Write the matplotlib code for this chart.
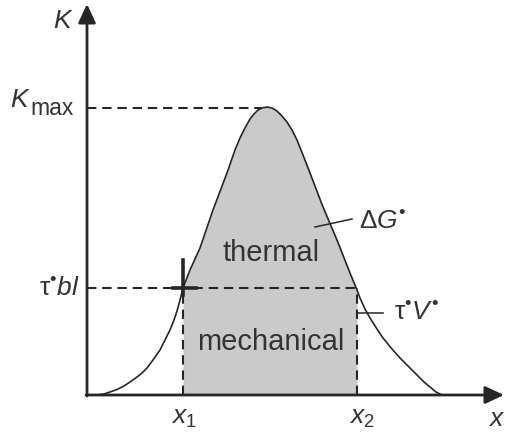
import numpy as np
import matplotlib
matplotlib.use("Agg")
import matplotlib.pyplot as plt

plt.rcParams['font.family'] = ['Liberation Sans', 'DejaVu Sans']
plt.rcParams['mathtext.fontset'] = 'custom'
plt.rcParams['mathtext.rm'] = 'Liberation Sans'
plt.rcParams['mathtext.it'] = 'Liberation Sans:italic'
plt.rcParams['mathtext.bf'] = 'Liberation Sans:bold'

# force-distance profile K(x), points along the barrier
curve_x = [0.10, 0.17, 0.23, 0.30, 0.37, 0.43, 0.50, 0.55, 0.60, 0.66, 0.73, 0.78,
           0.83, 0.87, 0.90, 0.93, 0.96, 1.03, 1.13, 1.26, 1.40, 1.48, 1.53, 1.58,
           1.63, 1.67, 1.71, 1.75, 1.80, 1.85, 1.90, 1.95, 2.00, 2.05, 2.10, 2.16,
           2.23, 2.36, 2.50, 2.63, 2.70, 2.73, 2.78, 2.83, 2.90, 2.96, 3.05, 3.13,
           3.22, 3.30, 3.37, 3.43, 3.49, 3.55]
curve_y = [0.00, 0.01, 0.03, 0.055, 0.09, 0.13, 0.18, 0.22, 0.27, 0.35, 0.45, 0.55,
           0.65, 0.75, 0.84, 0.95, 1.07, 1.25, 1.47, 1.85, 2.22, 2.45, 2.57, 2.67,
           2.76, 2.81, 2.85, 2.87, 2.88, 2.87, 2.84, 2.79, 2.73, 2.65, 2.55, 2.40,
           2.22, 1.88, 1.55, 1.22, 1.05, 0.97, 0.86, 0.77, 0.66, 0.57, 0.46, 0.37,
           0.28, 0.20, 0.13, 0.08, 0.03, 0.00]

x1, x2 = 0.96, 2.70
tau_bl = 1.07
k_max = 2.87

ink = '#262626'
txt = '#333333'
fill_c = '#cacaca'

fig = plt.figure(figsize=(5.07, 4.32), dpi=100)
ax = fig.add_axes([0, 0, 1, 1])
ax.set_xlim(-0.87, 4.20)
ax.set_ylim(-0.37, 3.95)
ax.axis('off')

cx = np.array(curve_x)
cy = np.array(curve_y)

# shaded area between x1 and x2 under the curve
ax.fill_between(cx, 0, cy, where=(cx >= x1 - 1e-9) & (cx <= x2 + 1e-9),
                color=fill_c, lw=0, zorder=1)
ax.plot(cx, cy, color=ink, lw=1.2, zorder=3, solid_joinstyle='round')

# dashed guides
dash = dict(color=ink, lw=1.5, dashes=(4.5, 2.8), zorder=2)
ax.plot([0, 1.75], [k_max, k_max], **dash)
ax.plot([0, x2], [tau_bl, tau_bl], **dash)
ax.plot([x1, x1], [0, tau_bl], **dash)
ax.plot([x2, x2], [0, tau_bl], **dash)

# cross marking the working point
ax.plot([x1, x1], [tau_bl - 0.07, tau_bl + 0.28], color=ink, lw=2.6, zorder=4)
ax.plot([x1 - 0.10, x1 + 0.13], [tau_bl, tau_bl], color=ink, lw=2.6, zorder=4)

# axes with arrows
arr = dict(arrowstyle='-|>,head_length=0.6,head_width=0.28', color=ink, lw=2.0,
           mutation_scale=19, shrinkA=0, shrinkB=0)
ax.annotate('', xy=(0, 3.91), xytext=(0, -0.01), arrowprops=arr, zorder=5)
ax.annotate('', xy=(4.17, 0), xytext=(-0.01, 0), arrowprops=arr, zorder=5)

# leader lines
ax.plot([2.28, 2.65], [1.68, 1.76], color=ink, lw=1.1)
ax.plot([2.70, 2.96], [0.82, 0.82], color=ink, lw=1.1)

fs = 19
ax.text(-0.235, 3.74, r'$K$', fontsize=fs, color=txt, ha='center', va='center')
# K_max built from two pieces so the subscript stays large
ax.text(-0.565, 2.95, r'$K$', fontsize=fs, color=txt, ha='right', va='center')
ax.text(-0.565, 2.87, 'max', fontsize=16.5, color=txt, ha='left', va='center')
ax.text(-0.07, tau_bl, '$\\mathrm{\u03c4}^{\u2022}bl$', fontsize=fs, color=txt,
        ha='right', va='center')
ax.text(x1 + 0.01, -0.23, r'$x_1$', fontsize=fs, color=txt, ha='center', va='center')
ax.text(x2 + 0.05, -0.23, r'$x_2$', fontsize=fs, color=txt, ha='center', va='center')
ax.text(4.10, -0.24, r'$x$', fontsize=fs, color=txt, ha='center', va='center')
ax.text(2.72, 1.73, '$\\mathrm{\u0394}G^{\u2022}$', fontsize=fs, color=txt,
        ha='left', va='center')
ax.text(3.07, 0.82, '$\\mathrm{\u03c4}^{\u2022}V^{\u2022}$', fontsize=fs, color=txt,
        ha='left', va='center')

ax.text(1.84, 1.42, 'thermal', fontsize=21, color=txt, ha='center', va='center')
ax.text(1.84, 0.53, 'mechanical', fontsize=21, color=txt, ha='center', va='center')

fig.savefig('out.png', dpi=100)
